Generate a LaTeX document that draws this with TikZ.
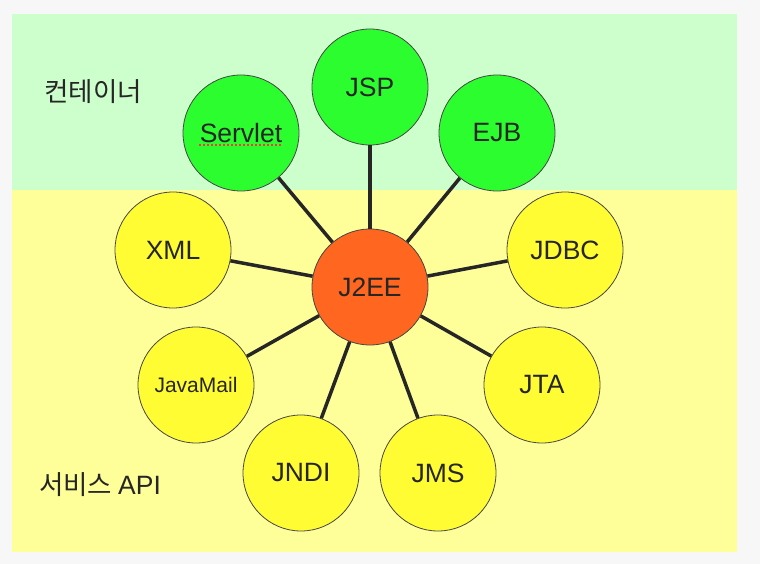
\documentclass[tikz,border=0pt]{standalone}
\usepackage{fontspec}
\setmainfont{Liberation Sans}
\newfontfamily\krfont{Noto Sans CJK KR}
\definecolor{pagebg}{HTML}{F7F7F7}
\definecolor{contbg}{HTML}{CCFFCC}
\definecolor{svcbg}{HTML}{FFFF99}
\definecolor{greenfill}{HTML}{2BFD2F}
\definecolor{yellowfill}{HTML}{FFFC33}
\definecolor{corefill}{HTML}{FF6620}
\definecolor{ink}{HTML}{262626}
\definecolor{spell}{HTML}{E8413A}
\begin{document}
\begin{tikzpicture}[x=1pt,y=-1pt,
  tech/.style={circle, draw=ink!85, line width=0.8pt, minimum size=116pt, inner sep=0pt,
               text=ink, font=\fontsize{26.5}{31}\selectfont},
  cont/.style={tech, fill=greenfill},
  svc/.style={tech, fill=yellowfill},
  core/.style={tech, fill=corefill},
  link/.style={draw=ink, line width=3.5pt},
  area/.style={text=ink, font=\krfont\fontsize{26.5}{30}\selectfont, inner sep=0pt}]
\fill[pagebg] (0,0) rectangle (760,564);
\useasboundingbox (0,0) rectangle (760,564);
\fill[contbg] (12,14) rectangle (737,190);
\fill[svcbg] (12,190) rectangle (737,552);

\node[area] (lcont) at (93,92) {컨테이너};
\node[area] (lsvc) at (100,485) {서비스 \fontspec{Liberation Sans}API};

\node[core] (j2ee) at (370,287) {J2EE};
\node[cont] (jsp) at (370,87) {JSP};
\node[cont] (servlet) at (241,133) {Servlet};
\node[cont] (ejb) at (497,133) {EJB};
\node[svc] (xml) at (173,250) {XML};
\node[svc] (jdbc) at (565,250) {JDBC};
\node[svc, font=\fontsize{21}{25}\selectfont] (javamail) at (196,385) {JavaMail};
\node[svc] (jta) at (542,385) {JTA};
\node[svc] (jndi) at (301,473) {JNDI};
\node[svc] (jms) at (438,473) {JMS};

\coordinate (ulA) at (199,145);
\coordinate (ulB) at (282,145);
\draw[spell, line width=2.4pt, dash pattern=on 2.4pt off 1.6pt] (ulA) -- (ulB);

\foreach \n in {jsp,servlet,ejb,xml,jdbc,javamail,jta,jndi,jms}
  \draw[link] (j2ee) -- (\n);
\end{tikzpicture}
\end{document}
